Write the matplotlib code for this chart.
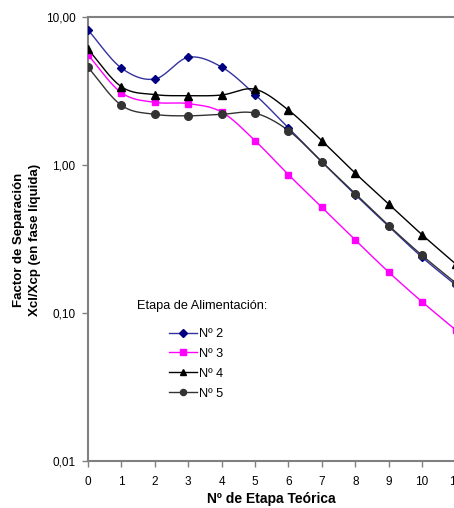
import matplotlib
matplotlib.use("Agg")
import matplotlib.pyplot as plt
import numpy as np
from matplotlib.ticker import FixedLocator, FixedFormatter

plt.rcParams["font.family"] = ["Liberation Sans", "DejaVu Sans"]

etapas = [0, 1, 2, 3, 4, 5, 6, 7, 8, 9, 10, 11]

alim_2 = [8.17, 4.52, 3.81, 5.34, 4.59, 2.99, 1.78, 1.05, 0.63, 0.385, 0.238, 0.155]
alim_3 = [5.54, 3.08, 2.65, 2.60, 2.28, 1.46, 0.86, 0.518, 0.311, 0.189, 0.119, 0.077]
alim_4 = [6.05, 3.38, 2.99, 2.94, 2.97, 3.25, 2.35, 1.46, 0.88, 0.545, 0.338, 0.215]
alim_5 = [4.57, 2.53, 2.20, 2.15, 2.20, 2.24, 1.71, 1.05, 0.64, 0.39, 0.245, 0.16]

nombres = ["Nº 2", "Nº 3", "Nº 4", "Nº 5"]

y_ticks = [0.01, 0.1, 1, 10]
y_labels = ["0,01", "0,10", "1,00", "10,00"]


def suavizar(x, y, n=20):
    # curva tipo Excel: Catmull-Rom sobre log10(y)
    x = np.asarray(x, dtype=float)
    ly = np.log10(np.asarray(y, dtype=float))
    px = np.concatenate([[2 * x[0] - x[1]], x, [2 * x[-1] - x[-2]]])
    py = np.concatenate([[2 * ly[0] - ly[1]], ly, [2 * ly[-1] - ly[-2]]])
    xs, ys = [], []
    t = np.linspace(0, 1, n, endpoint=False)
    for i in range(1, len(px) - 2):
        for p, out in ((px, xs), (py, ys)):
            p0, p1, p2, p3 = p[i - 1], p[i], p[i + 1], p[i + 2]
            out.extend(0.5 * (2 * p1 + (-p0 + p2) * t
                              + (2 * p0 - 5 * p1 + 4 * p2 - p3) * t ** 2
                              + (-p0 + 3 * p1 - 3 * p2 + p3) * t ** 3))
    xs.append(x[-1])
    ys.append(ly[-1])
    return np.array(xs), 10 ** np.array(ys)


fig = plt.figure(figsize=(4.54, 5.08), dpi=100)
ax = fig.add_axes([88 / 454, 47 / 508, (455.5 - 88) / 454, 444 / 508])

estilos = [
    (alim_2, "#3333a0", "#000080", "D", 4.5),
    (alim_3, "#ff00ff", "#ff00ff", "s", 5),
    (alim_4, "#000000", "#000000", "^", 6),
    (alim_5, "#333333", "#333333", "o", 5.5),
]

for (serie, c_linea, c_marca, marca, tam), nombre in zip(estilos, nombres):
    xs, ys = suavizar(etapas, serie)
    ax.plot(xs, ys, color=c_linea, lw=1.0, zorder=2)
    ax.plot(etapas, serie, ls="none", marker=marca, ms=tam, color=c_marca, zorder=3)
    ax.plot([], [], color=c_linea, lw=1.0, marker=marca, ms=tam * 0.8,
            markerfacecolor=c_marca, markeredgecolor=c_marca, label=nombre)

ax.set_yscale("log")
ax.set_ylim(0.01, 10)
ax.set_xlim(0, 11)
ax.yaxis.set_major_locator(FixedLocator(y_ticks))
ax.yaxis.set_major_formatter(FixedFormatter(y_labels))
ax.yaxis.set_minor_locator(FixedLocator([]))
ax.set_xticks(etapas)

for lado in ["left", "bottom", "top"]:
    ax.spines[lado].set_color("#808080")
    ax.spines[lado].set_linewidth(1.5)
ax.spines["right"].set_visible(False)
ax.tick_params(axis="both", direction="out", length=4, width=1, color="#808080",
               labelsize=8.5, pad=5)
ax.tick_params(axis="x", pad=7)

ax.set_xlabel("Nº de Etapa Teórica", fontsize=10, fontweight="bold", labelpad=3)
fig.text(27 / 454, 1 - 240 / 508, "Factor de Separación\nXcl/Xcp (en fase líquida)",
         fontsize=9.5, fontweight="bold", rotation=90, ha="center", va="center",
         multialignment="center", linespacing=1.35)

fig.text(137 / 454, 1 - 306 / 508, "Etapa de Alimentación:", fontsize=9.2,
         va="center", ha="left")
ax.legend(loc="upper left", bbox_to_anchor=(169 / 454, 1 - 328 / 508),
          bbox_transform=fig.transFigure, frameon=False, fontsize=9.2,
          handlelength=2.2, handletextpad=0.15, labelspacing=0.62,
          borderaxespad=0, borderpad=0)

fig.savefig("out.png", dpi=100)
